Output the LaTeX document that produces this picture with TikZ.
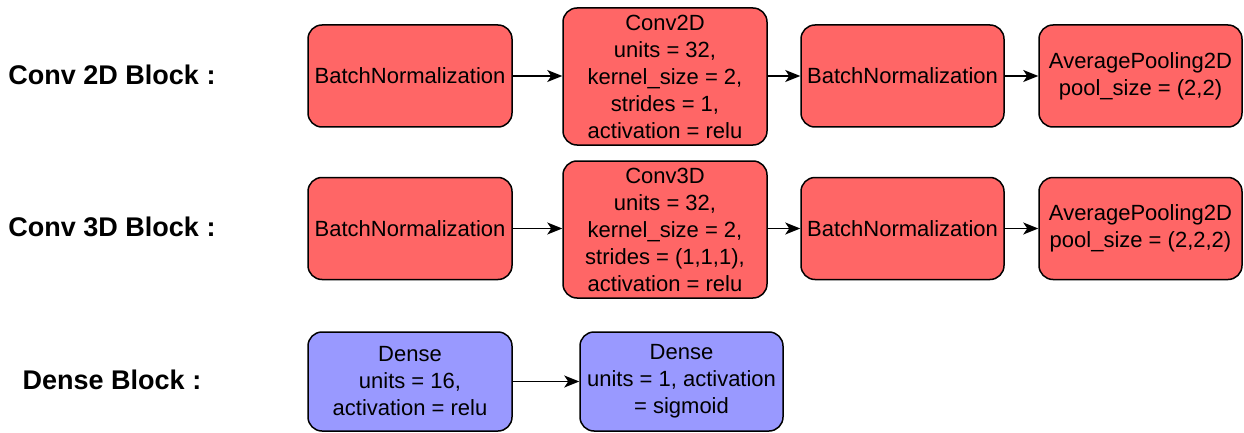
\documentclass[tikz,border=0pt]{standalone}
\usepackage{fontspec}
\setmainfont{Liberation Sans}
\usetikzlibrary{arrows.meta}
\definecolor{redfill}{HTML}{FF6666}
\definecolor{bluefill}{HTML}{9999FF}
\begin{document}
\begin{tikzpicture}[x=1pt,y=-1pt,
  blk/.style={draw=black, line width=1.5pt, rounded corners=14pt, align=center,
    inner sep=0pt, font=\fontsize{22}{27}\selectfont, text=black},
  redbox/.style={blk, fill=redfill},
  bluebox/.style={blk, fill=bluefill},
  lbl/.style={font=\fontsize{27}{32}\selectfont\bfseries, text=black},
  conn/.style={draw=black, line width=1.6pt, -{Stealth[length=15pt,width=12pt,inset=4pt]}}
]
\useasboundingbox (0,0) rectangle (1244,433);
% Row 1
\node[redbox, minimum width=204pt, minimum height=102pt] (bn1) at (410,76) {BatchNormalization};
\node[redbox, minimum width=204pt, minimum height=137pt] (c2d) at (665,76.5) {Conv2D\\units = 32,\\kernel\_size = 2,\\strides = 1,\\activation = relu};
\node[redbox, minimum width=203pt, minimum height=102pt] (bn2) at (902.5,76) {BatchNormalization};
\node[redbox, minimum width=203pt, minimum height=102pt] (ap2) at (1140.5,76) {AveragePooling2D\\pool\_size = (2,2)};
% Row 2
\node[redbox, minimum width=204pt, minimum height=102pt] (bn3) at (410,228.5) {BatchNormalization};
\node[redbox, minimum width=204pt, minimum height=137pt] (c3d) at (665,229.5) {Conv3D\\units = 32,\\kernel\_size = 2,\\strides = (1,1,1),\\activation = relu};
\node[redbox, minimum width=203pt, minimum height=102pt] (bn4) at (902.5,228.5) {BatchNormalization};
\node[redbox, minimum width=203pt, minimum height=102pt] (ap3) at (1140.5,228.5) {AveragePooling2D\\pool\_size = (2,2,2)};
% Row 3
\node[bluebox, minimum width=204pt, minimum height=99pt] (d1) at (410,381.5) {Dense\\units = 16,\\activation = relu};
\node[bluebox, minimum width=203pt, minimum height=99pt] (d2) at (681.5,381.5) {Dense\\units = 1, activation\\= sigmoid};
% Labels
\node[lbl] (l1) at (112,75) {Conv 2D Block :};
\node[lbl] (l2) at (112,227) {Conv 3D Block :};
\node[lbl] (l3) at (112,380) {Dense Block :};
% Connectors
\draw[conn] (bn1.east) -- (bn1.east -| c2d.west);
\draw[conn] (c2d.east |- bn2.west) -- (bn2.west);
\draw[conn] (bn2.east) -- (ap2.west);
\draw[conn] (bn3.east) -- (bn3.east -| c3d.west);
\draw[conn] (c3d.east |- bn4.west) -- (bn4.west);
\draw[conn] (bn4.east) -- (ap3.west);
\draw[conn] (d1.east) -- (d2.west);
\end{tikzpicture}
\end{document}
